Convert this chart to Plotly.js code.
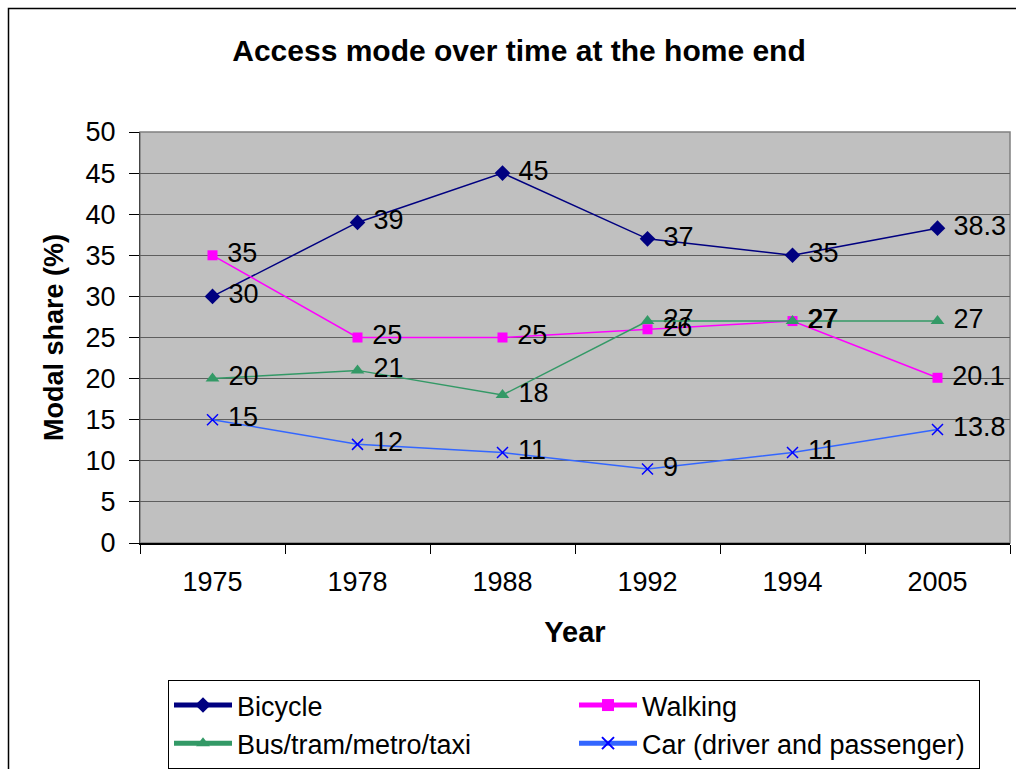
<!DOCTYPE html>
<html>
<head>
<meta charset="utf-8">
<script src="https://cdn.plot.ly/plotly-3.0.1.min.js"></script>
<style>
html,body{margin:0;padding:0;background:#fff;}
#chart{width:1016px;height:769px;}
</style>
</head>
<body>
<div id="chart"></div>
<script>
const years = ["1975", "1978", "1988", "1992", "1994", "2005"];
const bicycle = [30, 39, 45, 37, 35, 38.3];
const walking = [35, 25, 25, 26, 27, 20.1];
const bus = [20, 21, 18, 27, 27, 27];
const car = [15, 12, 11, 9, 11, 13.8];
const yTicks = [0, 5, 10, 15, 20, 25, 30, 35, 40, 45, 50];

const FONT = "Liberation Sans, Arial, sans-serif";

function series(name, vals, lineColor, markerColor, symbol, size) {
  return {
    type: "scatter",
    mode: "lines+markers+text",
    name: name,
    x: years,
    y: vals,
    text: vals.map(v => "\u00A0" + String(v)),
    textposition: "middle right",
    textfont: {family: FONT, size: 27, color: "#000"},
    line: {color: lineColor, width: 1.5},
    marker: {color: markerColor, symbol: symbol, size: size, line: {color: markerColor, width: symbol === "x-thin" ? 1.5 : 0}},
    cliponaxis: false
  };
}

const data = [
  series("Bicycle", bicycle, "#000080", "#000080", "diamond", 12),
  series("Walking", walking, "#FF00FF", "#FF00FF", "square", 10),
  series("Bus/tram/metro/taxi", bus, "#339966", "#339966", "triangle-up", 12),
  series("Car (driver and passenger)", car, "#3366FF", "#0000FF", "x-thin", 11)
];

const L = 140, R = 1010, T = 132, B = 543;
const W = R - L, H = B - T;
const px = x => (x - L) / W;
const py = y => (B - y) / H;

const layout = {
  width: 1016,
  height: 769,
  margin: {l: L, r: 1016 - R, t: T, b: 769 - B, pad: 0, autoexpand: false},
  paper_bgcolor: "#ffffff",
  plot_bgcolor: "#C0C0C0",
  font: {family: FONT, size: 27, color: "#000"},
  showlegend: true,
  title: {
    text: "<b>Access mode over time at the home end</b>",
    font: {family: FONT, size: 30, color: "#000"},
    xref: "container", yref: "container",
    x: 519 / 1016, xanchor: "center",
    y: 1 - 50 / 769, yanchor: "middle",
    automargin: false
  },
  xaxis: {
    type: "category",
    range: [-0.5, 5.5],
    tickson: "boundaries",
    ticks: "outside",
    ticklen: 9,
    tickcolor: "#000",
    tickwidth: 1,
    showgrid: false,
    showline: true,
    linecolor: "#000",
    linewidth: 1.5,
    tickfont: {family: FONT, size: 27, color: "#000"},
    ticklabelstandoff: 14,
    automargin: false,
    title: {text: "<b>Year</b>", font: {family: FONT, size: 29, color: "#000"}, standoff: 26}
  },
  yaxis: {
    range: [0, 50],
    tickvals: yTicks,
    ticktext: yTicks.map(String),
    ticks: "outside",
    ticklen: 10,
    tickcolor: "#000",
    showgrid: true,
    gridcolor: "#5e5e5e",
    gridwidth: 1,
    zeroline: false,
    showline: true,
    linecolor: "#444",
    linewidth: 1,
    tickfont: {family: FONT, size: 27, color: "#000"},
    ticklabelstandoff: 8,
    automargin: false,
    title: {text: "<b>Modal share (%)</b>", font: {family: FONT, size: 27, color: "#000"}, standoff: 14}
  },
  legend: {
    orientation: "h",
    x: 168 / 1016, y: 1 - 680 / 769,
    xanchor: "left", yanchor: "top",
    xref: "container", yref: "container",
    bgcolor: "#ffffff",
    bordercolor: "#000",
    borderwidth: 1,
    itemwidth: 58,
    entrywidth: 332,
    entrywidthmode: "pixels",
    font: {family: FONT, size: 27, color: "#000"},
    traceorder: "normal",
    itemsizing: "constant"
  },
  shapes: [
    {type: "rect", xref: "paper", yref: "paper", x0: 0, x1: 1, y0: 0, y1: 1,
     line: {color: "#808080", width: 1.5}, fillcolor: "rgba(0,0,0,0)", layer: "below"},
    {type: "rect", xref: "paper", yref: "paper", x0: px(8.5), x1: px(1030), y0: py(8.5), y1: py(790),
     line: {color: "#000", width: 1.5}, fillcolor: "rgba(0,0,0,0)", layer: "above"}
  ]
};

Plotly.newPlot("chart", data, layout, {displayModeBar: false, staticPlot: true});
</script>
</body>
</html>
